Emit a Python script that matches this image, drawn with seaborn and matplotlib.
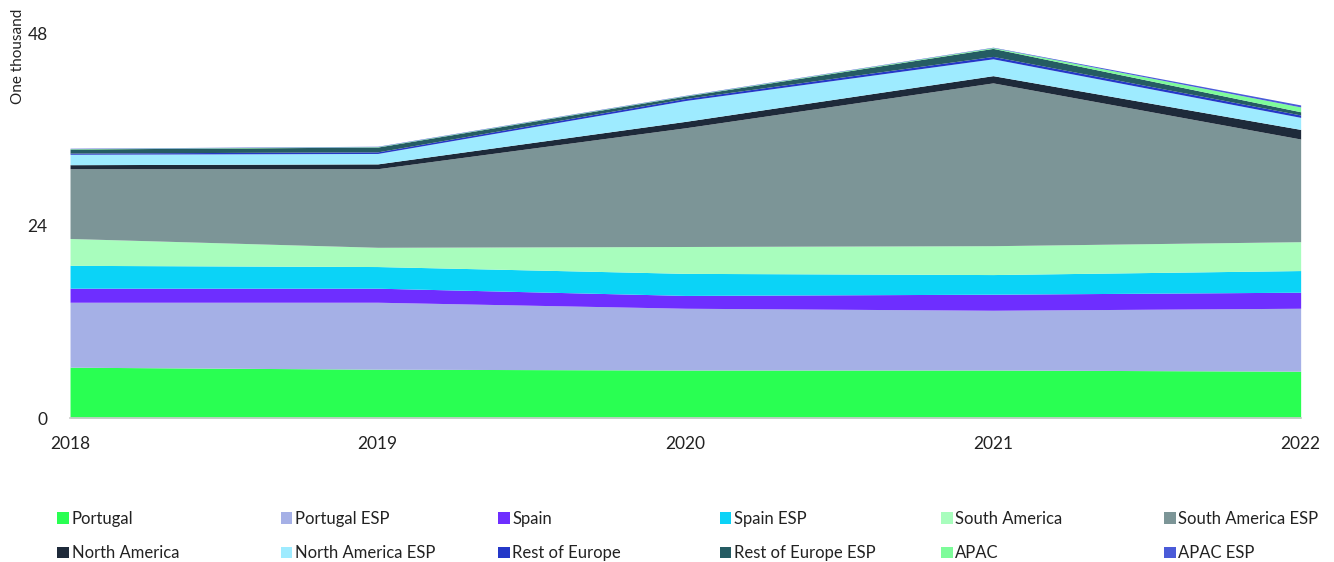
import numpy as np
import pandas as pd
import seaborn as sns
import matplotlib.pyplot as plt
from matplotlib.patches import Patch

# values in thousands
years = [2018, 2019, 2020, 2021, 2022]
portugal = [6.35, 6.1, 6.0, 6.0, 5.85]
portugal_esp = [8.1, 8.35, 7.7, 7.45, 7.85]
spain = [1.75, 1.75, 1.6, 2.0, 2.0]
spain_esp = [2.85, 2.7, 2.75, 2.45, 2.7]
south_america = [3.35, 2.4, 3.35, 3.6, 3.6]
south_america_esp = [8.7, 9.8, 14.8, 20.3, 12.8]
north_america = [0.5, 0.6, 0.8, 0.9, 1.2]
north_america_esp = [1.3, 1.3, 2.6, 2.1, 1.5]
rest_of_europe = [0.15, 0.2, 0.25, 0.3, 0.3]
rest_of_europe_esp = [0.5, 0.6, 0.3, 1.0, 0.4]
apac = [0.05, 0.05, 0.05, 0.1, 0.6]
apac_esp = [0.05, 0.05, 0.05, 0.05, 0.25]

series_names = ['Portugal', 'Portugal ESP', 'Spain', 'Spain ESP', 'South America',
                'South America ESP', 'North America', 'North America ESP', 'Rest of Europe',
                'Rest of Europe ESP', 'APAC', 'APAC ESP']
colors = ['#29FF52', '#A5B0E6', '#6E2EFF', '#0BD3F7', '#A8FDBD', '#7C9597',
          '#1E2A3A', '#9EEBFF', '#2438C8', '#255C63', '#7DFC9A', '#4A5BD8']

df = pd.DataFrame({
    'Portugal': portugal, 'Portugal ESP': portugal_esp, 'Spain': spain,
    'Spain ESP': spain_esp, 'South America': south_america,
    'South America ESP': south_america_esp, 'North America': north_america,
    'North America ESP': north_america_esp, 'Rest of Europe': rest_of_europe,
    'Rest of Europe ESP': rest_of_europe_esp, 'APAC': apac, 'APAC ESP': apac_esp,
}, index=years)

sns.set_theme(style='white')
plt.rcParams['font.family'] = ['Lato', 'DejaVu Sans']
plt.rcParams['text.color'] = '#222222'

fig = plt.figure(figsize=(13.34, 5.62), dpi=100)
ax = fig.add_axes([0.0525, 0.256, 0.9225, 0.685])

ax.stackplot(df.index, [df[c] for c in series_names], colors=colors, linewidth=0)

ax.set_xlim(2018, 2022)
ax.set_ylim(0, 48)
ax.set_xticks(years)
ax.set_yticks([0, 24, 48])
ax.tick_params(axis='both', length=0, labelsize=12.5, colors='#222222')
ax.tick_params(axis='x', pad=13)
ax.tick_params(axis='y', pad=16)
for side in ['top', 'right', 'left']:
    ax.spines[side].set_visible(False)
ax.spines['bottom'].set_color('#cccccc')

fig.text(0.008, 0.985, 'One thousand', rotation=90, va='top', ha='left', fontsize=11)

# legend: six columns of two entries, each column placed on its own
handles = [Patch(facecolor=c, edgecolor='none', label=n) for n, c in zip(series_names, colors)]
col_x = [0.043, 0.2105, 0.3735, 0.5395, 0.7055, 0.8725]
for i, x in enumerate(col_x):
    pair = [handles[i], handles[i + 6]]
    leg = fig.legend(pair, [h.get_label() for h in pair], loc='upper left',
                     bbox_to_anchor=(x, 0.091), frameon=False, fontsize=12,
                     handlelength=0.7, handleheight=0.7, handletextpad=0.15,
                     labelspacing=1.1, borderaxespad=0, borderpad=0)

fig.savefig('out.png', dpi=100)
